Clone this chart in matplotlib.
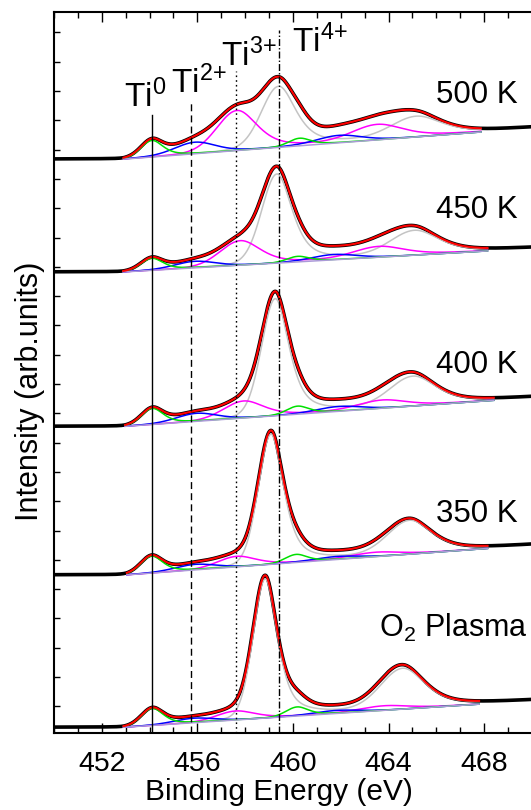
import numpy as np
import matplotlib
matplotlib.use('Agg')
import matplotlib.pyplot as plt
from matplotlib.ticker import MultipleLocator

plt.rcParams['font.family'] = ['Liberation Sans', 'DejaVu Sans']
plt.rcParams['mathtext.fontset'] = 'custom'
plt.rcParams['mathtext.rm'] = 'Liberation Sans'
plt.rcParams['mathtext.it'] = 'Liberation Sans:italic'
plt.rcParams['mathtext.bf'] = 'Liberation Sans:bold'

# Ti 2p spectra, bottom to top
labels = ['O$_2$ Plasma', '350 K', '400 K', '450 K', '500 K']
offsets = [5.7, 158.1, 306.6, 461.0, 573.8]

# linear background of each fit window (start eV, end eV, rise)
bg_start = [452.91, 453.05, 452.98, 452.90, 452.91]
bg_end = [467.79, 468.14, 468.40, 468.14, 467.86]
bg_rise = [23.1, 26.4, 26.0, 21.0, 27.1]

# fitted doublets (2p3/2, 2p1/2) for each spectrum
ti4_pos = [(458.84, 464.60), (459.08, 464.89), (459.26, 465.03), (459.33, 465.10), (459.40, 465.17)]
ti4_height = [(139, 40), (130, 33), (117, 29), (89, 24), (61, 20)]
ti4_fwhm = [(1.20, 2.2), (1.25, 2.2), (1.35, 2.3), (1.5, 2.4), (1.7, 2.5)]

ti3_pos = [(457.60, 463.82), (457.65, 463.47), (457.94, 463.75), (457.80, 463.61), (457.66, 463.54)]
ti3_height = [(9, 4.5), (10.5, 4.3), (17, 8), (24.5, 10.5), (40, 15)]
ti3_fwhm = [(1.9, 2.4), (1.9, 2.4), (2.0, 2.4), (2.0, 2.5), (2.0, 2.5)]

ti2_pos = [(455.85, 461.80), (455.90, 461.80), (455.96, 461.90), (455.89, 461.70), (455.89, 461.91)]
ti2_height = [(4.5, 3.0), (5.5, 3.0), (8, 4.8), (6.5, 5.3), (11.5, 7.4)]
ti2_fwhm = [(2.0, 2.2), (2.0, 2.2), (2.0, 2.2), (2.0, 2.2), (2.0, 2.2)]

ti0_pos = [(454.12, 460.18), (454.09, 460.14), (454.12, 460.20), (454.10, 460.21), (454.10, 460.28)]
ti0_height = [(17, 9), (17, 8), (16, 8), (12, 5.5), (16.5, 7.5)]
ti0_fwhm = [(1.1, 1.1), (1.1, 1.1), (1.1, 1.1), (1.1, 1.1), (1.1, 1.1)]

# Lorentzian fraction on the low / high binding energy side
ti4_eta = (0.1, 0.6)
ti3_eta = (0.1, 0.5)
ti2_eta = (0.2, 0.2)
ti0_eta = (0.1, 0.55)

# reference binding energies of the oxidation states
state_names = ['Ti$^{0}$', 'Ti$^{2{+}}$', 'Ti$^{3{+}}$', 'Ti$^{4{+}}$']
state_energy = [454.12, 455.74, 457.63, 459.40]


def pseudo_voigt(x, pos, height, fwhm, eta):
    d = (x - pos) / fwhm
    g = np.exp(-4 * np.log(2) * d ** 2)
    lor = 1.0 / (1.0 + 4 * d ** 2)
    e = np.where(x < pos, eta[0], eta[1])
    return height * (e * lor + (1 - e) * g)


def doublet(x, pos, height, fwhm, eta):
    return sum(pseudo_voigt(x, p, h, w, eta) for p, h, w in zip(pos, height, fwhm))


energy = np.linspace(450, 472, 2201)

fig = plt.figure(figsize=(5.31, 8.10), dpi=100)
ax = fig.add_axes([0.1017, 0.0951, 0.990, 0.8898])

species = [
    (ti4_pos, ti4_height, ti4_fwhm, ti4_eta, '#c4c4c4'),
    (ti3_pos, ti3_height, ti3_fwhm, ti3_eta, '#ff00ff'),
    (ti2_pos, ti2_height, ti2_fwhm, ti2_eta, '#0000ff'),
    (ti0_pos, ti0_height, ti0_fwhm, ti0_eta, '#00e000'),
]

for i, off in enumerate(offsets):
    slope = bg_rise[i] / (bg_end[i] - bg_start[i])
    bg = slope * np.clip(energy - bg_start[i], 0, None)
    comps = [doublet(energy, s[0][i], s[1][i], s[2][i], s[3]) for s in species]
    total = bg + sum(comps)
    win = (energy >= bg_start[i]) & (energy <= bg_end[i])

    # measured trace
    ax.plot(energy, off + total, color='black', lw=2.6, zorder=1)
    for comp, s in zip(comps, species):
        ax.plot(energy[win], off + bg[win] + comp[win], color=s[4], lw=1.1, zorder=3)
    ax.plot(energy[win], off + bg[win], color='#ab9ad8', lw=1.1, zorder=3.5)
    ax.plot(energy[win], off + total[win], color='red', lw=1.5, zorder=4)

# marker lines for the oxidation states
line_tops = [618, 631.4, 662, 702.5]
line_styles = ['-', (0, (5, 3)), (0, (1.2, 2.2)), (0, (5, 1.5, 1, 1.5))]
for e, top, ls in zip(state_energy, line_tops, line_styles):
    ax.plot([e, e], [0, top], color='black', lw=1.0, ls=ls, zorder=5)

text_pos = [(452.91, 626.3), (454.90, 639.9), (456.98, 667.0), (459.95, 680.5)]
for name, (x, y) in zip(state_names, text_pos):
    ax.text(x, y, name, fontsize=24, ha='left', va='baseline')

label_pos = [(463.61, 96.0), (465.97, 210.7), (465.97, 359.7), (465.97, 514.6), (465.97, 629.7)]
for lab, (x, y) in zip(labels, label_pos):
    ax.text(x, y, lab, fontsize=22.5 if lab.endswith('K') else 22, ha='left', va='baseline')

ax.set_xlim(450, 472)
ax.set_ylim(0, 720.7)
ax.xaxis.set_major_locator(MultipleLocator(4))
ax.xaxis.set_minor_locator(MultipleLocator(1))
ax.set_xticks(np.arange(452, 472, 4))
ax.set_yticks(np.arange(26.6, 720, 29.3))
ax.tick_params(axis='both', which='both', direction='in', top=True, right=True)
ax.tick_params(axis='x', which='major', length=7, width=1, labelsize=20.5, pad=13)
ax.tick_params(axis='x', which='minor', length=4.3, width=1)
ax.tick_params(axis='y', which='major', length=4, width=1, labelleft=False)
for sp in ax.spines.values():
    sp.set_linewidth(1.5)

ax.set_xlabel('Binding Energy (eV)', fontsize=21.5)
ax.set_ylabel('Intensity (arb.units)', fontsize=22)
ax.xaxis.set_label_coords(0.427, -0.0625)
ax.yaxis.set_label_coords(-0.017, 0.474)

fig.savefig('out.png', dpi=100)
